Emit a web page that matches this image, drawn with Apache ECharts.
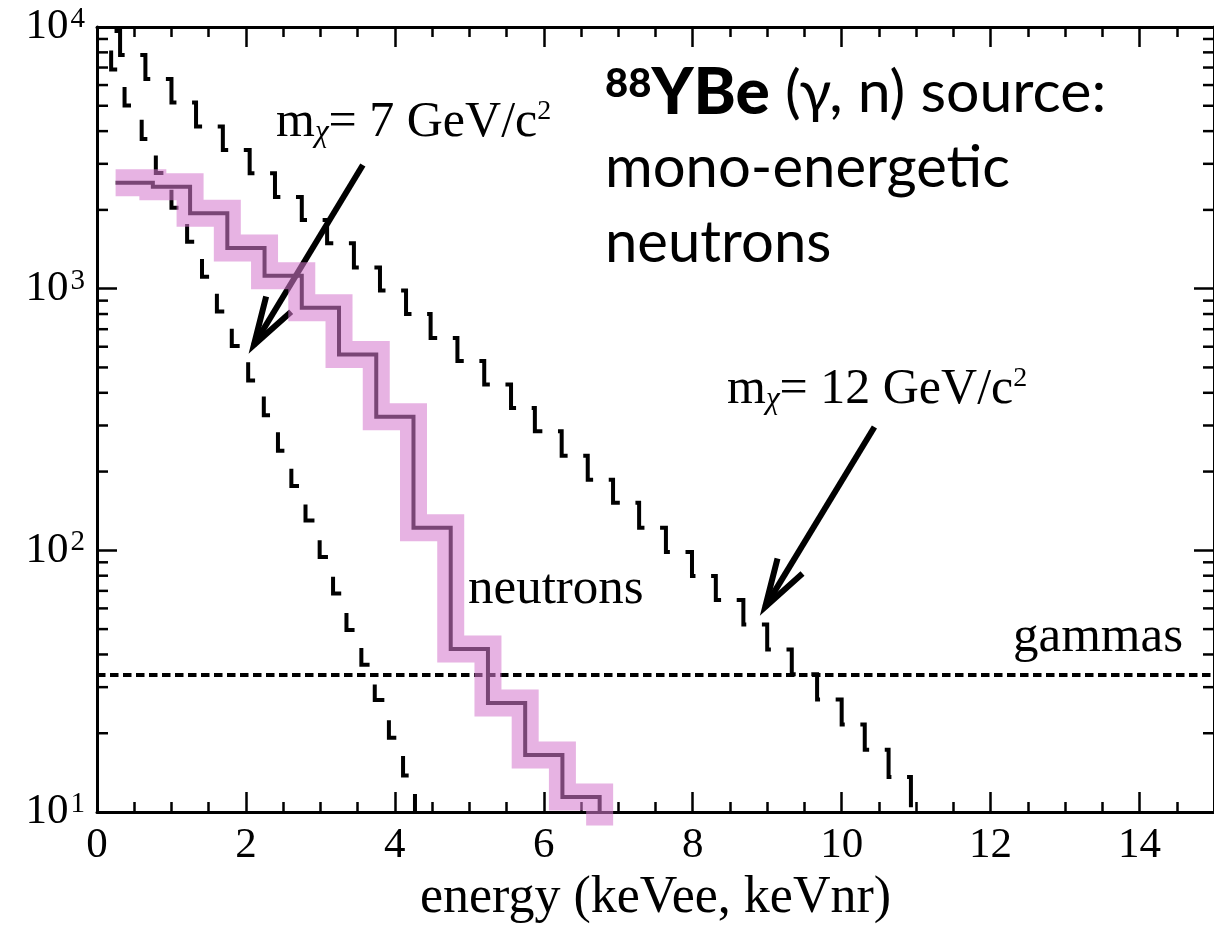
<!DOCTYPE html>
<html>
<head>
<meta charset="utf-8">
<script src="https://cdn.jsdelivr.net/npm/echarts@6/dist/echarts.min.js"></script>
<style>
  html, body { margin: 0; padding: 0; background: #fff; }
  #chart { width: 1214px; height: 933px; }
</style>
</head>
<body>
<div id="chart"></div>
<script>
// Recoil-energy spectra: dark-matter signal shapes for two WIMP masses,
// the measured 88YBe photo-neutron spectrum and the flat gamma background.

// m_chi = 7 GeV/c^2 signal: step edges (keV) and counts of the bin that starts there
const wimp7Edges  = [0.13, 0.19, 0.37, 0.6, 0.79, 1.0, 1.21, 1.41, 1.61, 1.81, 2.03, 2.24,
                     2.43, 2.61, 2.8, 2.99, 3.17, 3.35, 3.55, 3.73, 3.92, 4.11, 4.27];
const wimp7Counts = [9500, 6880, 5010, 3730, 2770, 2040, 1510, 1110, 818, 604, 446, 328,
                     240, 176, 130, 94.4, 68.4, 49.6, 36.5, 26.8, 19.2, 13.8, 8];

// m_chi = 12 GeV/c^2 signal
const wimp12Edges  = [0.2, 0.31, 0.65, 1.0, 1.33, 1.69, 2.05, 2.39, 2.75, 3.09, 3.45, 3.8,
                      4.15, 4.48, 4.84, 5.2, 5.56, 5.88, 6.24, 6.59, 6.93, 7.28, 7.64, 7.99,
                      8.31, 8.68, 9.0, 9.33, 9.67, 10.0, 10.31, 10.63, 10.93];
const wimp12Counts = [9650, 7820, 6330, 5150, 4170, 3390, 2760, 2240, 1830, 1490, 1205, 985,
                      800, 648, 529, 430, 350, 285, 230, 186, 152, 122, 98.6, 79.8,
                      64.6, 52.1, 41.8, 33.6, 26.9, 21.6, 17.3, 13.6, 8];

// 88YBe neutrons, 0.5 keV bins
const neutronEdges  = [0.25, 0.75, 1.25, 1.75, 2.25, 2.75, 3.25, 3.75, 4.25, 4.75, 5.25, 5.75, 6.25, 6.75];
const neutronCounts = [2540, 2450, 1940, 1430, 1120, 845, 560, 324, 122, 42, 26.1, 16.5, 11.4, 8];

// flat gamma background
const gammaEnergy = [0, 15];
const gammaRate   = [33.4, 33.4];

// axis ranges and ticks
const xRange = [0, 15];
const xMajorStep = 2;
const yRange = [10, 10000];
const yMinorTicks = [20, 30, 40, 50, 60, 70, 80, 90,
                     200, 300, 400, 500, 600, 700, 800, 900,
                     2000, 3000, 4000, 5000, 6000, 7000, 8000, 9000];

// annotation arrows: [tail, head] in (keV, counts)
const arrow7  = [[3.57, 2970], [2.107, 609]];
const arrow12 = [[10.44, 296], [8.973, 60.8]];

const SERIF = 'Liberation Serif';
const SANS = 'Lato';

const pair = (xs, ys) => xs.map((x, i) => [x, ys[i]]);

const chart = echarts.init(document.getElementById('chart'), null, { renderer: 'canvas' });

const axisLine = { show: true, onZero: false, lineStyle: { color: '#000', width: 3 } };
const majorTick = { show: true, inside: true, length: 20, lineStyle: { color: '#000', width: 2.5 } };
const minorTick = { show: true, splitNumber: 4, length: 10, lineStyle: { color: '#000', width: 2.5 } };

const xBase = {
  type: 'value', min: xRange[0], max: xRange[1], interval: xMajorStep,
  axisLine, axisTick: majorTick, minorTick, splitLine: { show: false }, minorSplitLine: { show: false }
};

const yBase = {
  type: 'log', logBase: 10, min: yRange[0], max: yRange[1],
  axisLine, axisTick: majorTick, splitLine: { show: false }
};

const line = (id, edges, counts, extra) => Object.assign({
  id, type: 'line', step: 'end', data: pair(edges, counts),
  symbol: 'none', silent: true, animation: false, emphasis: { disabled: true },
  lineStyle: { color: '#000', width: 4, cap: 'butt', join: 'miter' }, z: 2
}, extra || {});

chart.setOption({
  animation: false,
  grid: { left: 97, right: -8, top: 27, bottom: 121, containLabel: false },
  xAxis: [
    Object.assign({}, xBase, {
      position: 'bottom',
      name: 'energy (keVee, keVnr)', nameLocation: 'middle', nameGap: 58,
      nameTextStyle: { fontFamily: SERIF, fontSize: 52, color: '#000' },
      axisLabel: { show: true, margin: 12, showMaxLabel: false,
                   fontFamily: SERIF, fontSize: 43, color: '#000' }
    }),
    Object.assign({}, xBase, { position: 'top', axisLabel: { show: false } })
  ],
  yAxis: [
    Object.assign({}, yBase, {
      position: 'left',
      axisLabel: {
        show: true, margin: 12,
        formatter: v => '{b|10}{s|' + Math.round(Math.log10(v)) + '}',
        rich: {
          b: { fontFamily: SERIF, fontSize: 43, lineHeight: 44, color: '#000' },
          s: { fontFamily: SERIF, fontSize: 29, lineHeight: 34, verticalAlign: 'top',
               padding: [0, 0, 0, 2], color: '#000' }
        }
      }
    }),
    Object.assign({}, yBase, { position: 'right', axisLabel: { show: false } })
  ],
  series: [
    line('wimp7', wimp7Edges, wimp7Counts),
    line('wimp12', wimp12Edges, wimp12Counts),
    {
      id: 'gammas', type: 'line', data: pair(gammaEnergy, gammaRate),
      symbol: 'none', silent: true, emphasis: { disabled: true },
      lineStyle: { color: '#000', width: 4, type: [8.5, 4.5], cap: 'butt' }, z: 2
    },
    line('neutrons', neutronEdges, neutronCounts),
    line('neutronBand', neutronEdges, neutronCounts, {
      lineStyle: { color: 'rgba(212,122,205,0.57)', width: 27, cap: 'butt', join: 'miter' }, z: 10
    }),
    {
      // minor decade ticks on the left and right frame of the log axis
      id: 'yMinor', type: 'custom', silent: true, clip: false, z: 3,
      data: yMinorTicks.map(v => [xRange[0], v]),
      renderItem(params, api) {
        const p = api.coord([xRange[0], api.value(1)]);
        const cs = params.coordSys;
        const st = { stroke: '#000', lineWidth: 2.5 };
        return {
          type: 'group', children: [
            { type: 'line', shape: { x1: cs.x, y1: p[1], x2: cs.x + 11, y2: p[1] }, style: st },
            { type: 'line', shape: { x1: cs.x + cs.width, y1: p[1], x2: cs.x + cs.width - 11, y2: p[1] }, style: st }
          ]
        };
      }
    }
  ]
});

const toPx = (x, y) => chart.convertToPixel({ xAxisIndex: 0, yAxisIndex: 0 }, [x, y]);

// Dash pattern whose period follows the staircase, so each dash sits on one step.
function stepDash(edges, counts, dash, shift) {
  const pts = edges.map((e, i) => toPx(e, counts[i]));
  let s = 0;
  const centers = [];
  for (let i = 1; i < pts.length; i++) {
    s += pts[i][0] - pts[i - 1][0];
    const v = Math.abs(pts[i][1] - pts[i - 1][1]);
    centers.push(s + v / 2);
    s += v;
  }
  const c = centers.slice(0, -1); // final drop leaves the frame
  const n = c.length;
  const period = (c[n - 1] - c[0]) / (n - 1);
  let phase = 0;
  c.forEach((v, k) => { phase += v - k * period; });
  phase /= n;
  const start = phase + shift;
  const offset = ((-start % period) + period) % period;
  return { type: [dash, period - dash], dashOffset: offset };
}

function arrow(id, tail, head) {
  const t = toPx(tail[0], tail[1]);
  const h = toPx(head[0], head[1]);
  const ang = Math.atan2(t[1] - h[1], t[0] - h[0]);
  const len = 50, half = 17 * Math.PI / 180;
  const b1 = [h[0] + len * Math.cos(ang + half), h[1] + len * Math.sin(ang + half)];
  const b2 = [h[0] + len * Math.cos(ang - half), h[1] + len * Math.sin(ang - half)];
  const st = { stroke: '#000', lineWidth: 6, fill: null, lineJoin: 'miter', lineCap: 'butt' };
  return [
    { id: id + 'Shaft', type: 'line', z: 5, silent: true,
      shape: { x1: t[0], y1: t[1], x2: h[0], y2: h[1] }, style: st },
    { id: id + 'Head', type: 'polyline', z: 5, silent: true,
      shape: { points: [b1, h, b2] }, style: st }
  ];
}

const massRich = {
  m: { fontFamily: SERIF, fontSize: 50, lineHeight: 50 },
  c: { fontFamily: SERIF, fontSize: 31, fontStyle: 'italic', lineHeight: 8, verticalAlign: 'bottom' },
  p: { fontFamily: SERIF, fontSize: 28, lineHeight: 44, verticalAlign: 'top' }
};

const massLabel = (id, x, y, value) => ({
  id, type: 'text', x, y, z: 6, silent: true,
  style: {
    text: '{m|m}{c|χ}{m|= ' + value + ' GeV/c}{p|2}',
    rich: massRich, fill: '#000', verticalAlign: 'middle', align: 'left'
  }
});

chart.setOption({
  series: [
    { id: 'wimp7', lineStyle: stepDash(wimp7Edges, wimp7Counts, 25, 0) },
    { id: 'wimp12', lineStyle: stepDash(wimp12Edges, wimp12Counts, 34, -17) }
  ],
  graphic: [
    ...arrow('arrow7', arrow7[0], arrow7[1]),
    ...arrow('arrow12', arrow12[0], arrow12[1]),
    massLabel('label7', 276, 123, '7'),
    massLabel('label12', 727, 390, '12'),
    {
      id: 'neutronLabel', type: 'text', x: 468, y: 590, silent: true,
      style: { text: 'neutrons', fontFamily: SERIF, fontSize: 51, fill: '#000', verticalAlign: 'middle' }
    },
    {
      id: 'gammaLabel', type: 'text', x: 1183, y: 638, silent: true,
      style: { text: 'gammas', fontFamily: SERIF, fontSize: 51, fill: '#000',
               verticalAlign: 'middle', align: 'right' }
    },
    {
      id: 'sourceTitle', type: 'text', x: 605, y: 93, silent: true,
      style: {
        text: '{s|88}{b|YBe}{r| (γ, n) source:}',
        fill: '#000', verticalAlign: 'middle', align: 'left',
        rich: {
          s: { fontFamily: SANS, fontWeight: 900, fontSize: 40, lineHeight: 30, verticalAlign: 'top' },
          b: { fontFamily: SANS, fontWeight: 900, fontSize: 64, lineHeight: 58 },
          r: { fontFamily: SANS, fontSize: 59, lineHeight: 58 }
        }
      }
    },
    {
      id: 'sourceLine2', type: 'text', x: 605, y: 168, silent: true,
      style: { text: 'mono-energetic', fontFamily: SANS, fontSize: 58, fill: '#000', verticalAlign: 'middle' }
    },
    {
      id: 'sourceLine3', type: 'text', x: 605, y: 243, silent: true,
      style: { text: 'neutrons', fontFamily: SANS, fontSize: 58, fill: '#000', verticalAlign: 'middle' }
    }
  ]
});
</script>
</body>
</html>
